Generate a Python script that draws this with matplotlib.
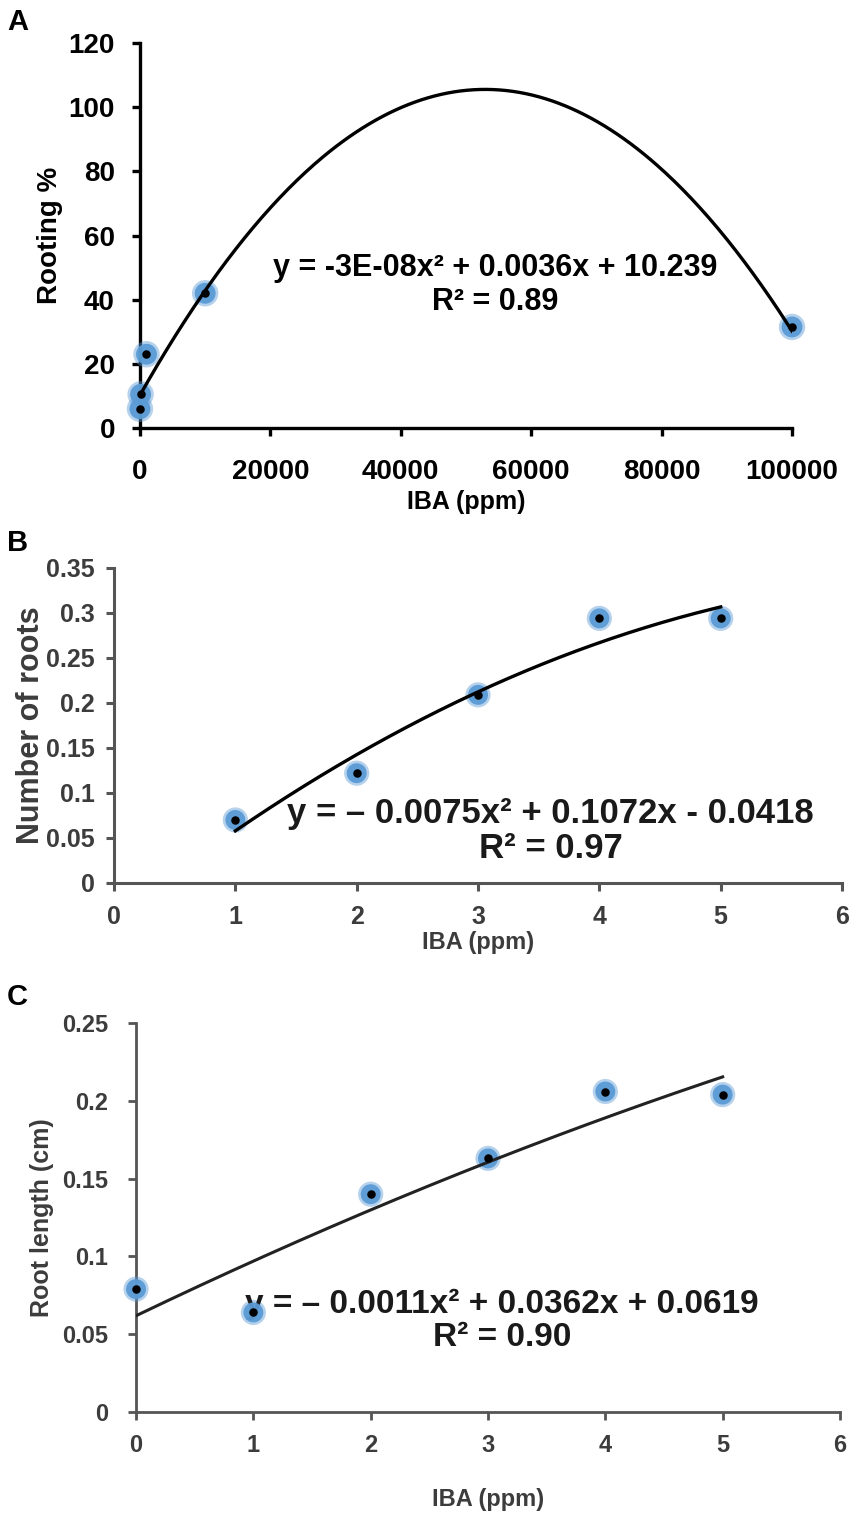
import numpy as np
import matplotlib
matplotlib.use("Agg")
import matplotlib.pyplot as plt

plt.rcParams['font.family'] = ['Liberation Sans', 'DejaVu Sans']

# ---- data ----
# A: rooting %
a_iba = [0, 100, 1000, 10000, 100000]
a_rooting = [6.0, 10.5, 23.0, 42.0, 31.5]
a_coef = [-3.4e-08, 0.0036, 10.239]
a_xticks = [0, 20000, 40000, 60000, 80000, 100000]
a_yticks = [0, 20, 40, 60, 80, 100, 120]

# B: number of roots
b_iba = [1, 2, 3, 4, 5]
b_roots = [0.070, 0.122, 0.209, 0.294, 0.294]
b_coef = [-0.0075, 0.1072, -0.0418]
b_xticks = [0, 1, 2, 3, 4, 5, 6]
b_yticks = [0, 0.05, 0.1, 0.15, 0.2, 0.25, 0.3, 0.35]

# C: root length
c_iba = [0, 1, 2, 3, 4, 5]
c_length = [0.079, 0.064, 0.140, 0.163, 0.206, 0.204]
c_coef = [-0.0011, 0.0362, 0.0619]
c_xticks = [0, 1, 2, 3, 4, 5, 6]
c_yticks = [0, 0.05, 0.1, 0.15, 0.2, 0.25]

BLUE = '#5B9BD5'
GREY = '#3c3c3c'


def tick_fmt(v):
    if v == 0:
        return '0'
    return ('%.2f' % v).rstrip('0').rstrip('.')


def draw_points(ax, x, y, big=20):
    # soft blue blob with a black centre dot
    ax.scatter(x, y, s=(big * 0.72 * 1.2) ** 2, color=BLUE, alpha=0.45,
               edgecolors='none', zorder=3, clip_on=False)
    ax.scatter(x, y, s=(big * 0.72 * 0.95) ** 2, color=BLUE, alpha=0.95,
               edgecolors='none', zorder=4, clip_on=False)
    ax.scatter(x, y, s=26, color='black', zorder=6, clip_on=False)


def style_axes(ax, color, lw):
    for side in ['top', 'right']:
        ax.spines[side].set_visible(False)
    for side in ['left', 'bottom']:
        ax.spines[side].set_color(color)
        ax.spines[side].set_linewidth(lw)
    ax.tick_params(direction='out', length=6, width=lw, color=color)


fig = plt.figure(figsize=(8.54, 15.19), dpi=100)

###### PANEL A ########
axA = fig.add_axes([0.1639, 0.7182, 0.7635, 0.2535])
draw_points(axA, a_iba, a_rooting, big=22)
xx = np.linspace(0, 100000, 300)
axA.plot(xx, np.polyval(a_coef, xx), '-k', lw=2.4, zorder=5)
axA.set_xlim(0, 100000)
axA.set_ylim(0, 120)
axA.set_xticks(a_xticks)
axA.set_yticks(a_yticks)
axA.set_xticklabels([str(v) for v in a_xticks], fontsize=20, fontweight='bold')
axA.set_yticklabels([str(v) for v in a_yticks], fontsize=20, fontweight='bold')
style_axes(axA, 'black', 2.4)
axA.tick_params(axis='x', pad=16)
axA.tick_params(axis='y', pad=12)
axA.set_xlabel('IBA (ppm)', fontsize=18, fontweight='bold', labelpad=4)
axA.set_ylabel('Rooting %', fontsize=20, fontweight='bold', labelpad=4)
axA.text(0.545, 0.371, 'y = -3E-08x² + 0.0036x + 10.239\nR² = 0.89',
         transform=axA.transAxes, ha='center', va='center', fontsize=22,
         fontweight='bold', linespacing=1.15)

###### PANEL B ########
axB = fig.add_axes([0.1335, 0.4187, 0.8525, 0.2074])
draw_points(axB, b_iba, b_roots, big=21)
xx = np.linspace(1, 5, 200)
axB.plot(xx, np.polyval(b_coef, xx), '-k', lw=2.4, zorder=5)
axB.set_xlim(0, 6)
axB.set_ylim(0, 0.35)
axB.set_xticks(b_xticks)
axB.set_yticks(b_yticks)
axB.set_xticklabels([str(v) for v in b_xticks], fontsize=18, fontweight='bold', color=GREY)
axB.set_yticklabels([tick_fmt(v) for v in b_yticks], fontsize=18, fontweight='bold', color=GREY)
style_axes(axB, '#555555', 2.2)
axB.tick_params(axis='x', pad=10)
axB.tick_params(axis='y', pad=8)
axB.set_xlabel('IBA (ppm)', fontsize=17, fontweight='bold', color=GREY, labelpad=1)
axB.set_ylabel('Number of roots', fontsize=22, fontweight='bold', color=GREY, labelpad=0)
axB.text(0.6, 0.165, 'y = – 0.0075x² + 0.1072x - 0.0418\nR² = 0.97',
         transform=axB.transAxes, ha='center', va='center', fontsize=25,
         fontweight='bold', color='#1a1a1a', linespacing=1.1)

###### PANEL C ########
axC = fig.add_axes([0.1593, 0.0704, 0.8243, 0.2561])
draw_points(axC, c_iba, c_length, big=21)
xx = np.linspace(0, 5, 200)
axC.plot(xx, np.polyval(c_coef, xx), '-', color='#222222', lw=2.2, zorder=5)
axC.set_xlim(0, 6)
axC.set_ylim(0, 0.25)
axC.set_xticks(c_xticks)
axC.set_yticks(c_yticks)
axC.set_xticklabels([str(v) for v in c_xticks], fontsize=17, fontweight='bold', color=GREY)
axC.set_yticklabels([tick_fmt(v) for v in c_yticks], fontsize=17, fontweight='bold', color=GREY)
style_axes(axC, '#555555', 2.0)
axC.tick_params(axis='x', pad=10)
axC.tick_params(axis='y', pad=14)
axC.set_xlabel('IBA (ppm)', fontsize=17, fontweight='bold', color=GREY, labelpad=22)
axC.set_ylabel('Root length (cm)', fontsize=18, fontweight='bold', color=GREY, labelpad=6)
axC.text(0.52, 0.234, 'y = – 0.0011x² + 0.0362x + 0.0619\nR² = 0.90',
         transform=axC.transAxes, ha='center', va='center', fontsize=24,
         fontweight='bold', color='#1a1a1a', linespacing=1.1)

# panel letters
fig.text(0.008, 0.995, 'A', fontsize=21, fontweight='bold', va='top')
fig.text(0.008, 0.652, 'B', fontsize=21, fontweight='bold', va='top')
fig.text(0.008, 0.353, 'C', fontsize=21, fontweight='bold', va='top')

plt.savefig('out.png', dpi=100)
